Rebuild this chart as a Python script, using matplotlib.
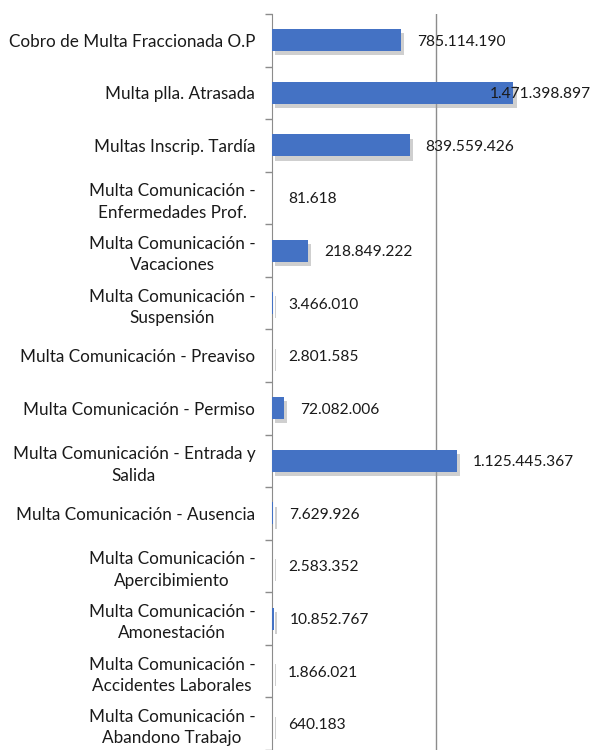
import matplotlib
matplotlib.use('agg')
import matplotlib.pyplot as plt
import matplotlib.patheffects as pe

categories = [
    'Cobro de Multa Fraccionada O.P',
    'Multa plla. Atrasada',
    'Multas Inscrip. Tardía',
    'Multa Comunicación -\nEnfermedades Prof.',
    'Multa Comunicación -\nVacaciones',
    'Multa Comunicación -\nSuspensión',
    'Multa Comunicación - Preaviso',
    'Multa Comunicación - Permiso',
    'Multa Comunicación - Entrada y\nSalida',
    'Multa Comunicación - Ausencia',
    'Multa Comunicación -\nApercibimiento',
    'Multa Comunicación -\nAmonestación',
    'Multa Comunicación -\nAccidentes Laborales',
    'Multa Comunicación -\nAbandono Trabajo',
]
values = [785114190, 1471398897, 839559426, 81618, 218849222, 3466010, 2801585,
          72082006, 1125445367, 7629926, 2583352, 10852767, 1866021, 640183]

plt.rcParams['font.family'] = ['Lato', 'DejaVu Sans']

fig = plt.figure(figsize=(5.95, 7.5), dpi=100)
ax = fig.add_axes([272/595, 0.0, 1 - 272/595, 736/750])

ypos = list(range(len(categories)))
bars = ax.barh(ypos, values, height=0.42, color='#4472C4', zorder=3)
for b in bars:
    b.set_path_effects([pe.SimplePatchShadow(offset=(2.5, -3), shadow_rgbFace='#a0a0a0', alpha=0.5),
                        pe.Normal()])

ax.set_xlim(0, 1.97e9)
ax.set_ylim(len(categories) - 0.5, -0.5)

# gridline at 1e9
ax.set_xticks([1e9])
ax.tick_params(axis='x', length=0, labelbottom=False)
ax.grid(axis='x', color='#8c8c8c', linewidth=1.0, zorder=0)

ax.set_yticks(ypos)
ax.set_yticklabels(categories, fontsize=12.3, color='#1a1a1a',
                   multialignment='center', linespacing=1.4)
ax.tick_params(axis='y', which='major', length=0, pad=12)
ax.set_yticks([i - 0.5 for i in range(len(categories) + 1)], minor=True)
ax.tick_params(axis='y', which='minor', length=5, color='#8c8c8c', width=1)

for s in ['top', 'right', 'bottom']:
    ax.spines[s].set_visible(False)
ax.spines['left'].set_color('#8c8c8c')

for i, v in enumerate(values):
    txt = f"{v:,}".replace(',', '.')
    if v / 1.97e9 > 0.7:
        ax.annotate(txt, xy=(1.0, i), xycoords=('axes fraction', 'data'),
                    xytext=(-3, -1), textcoords='offset points',
                    ha='right', va='center', fontsize=11.2, color='#1a1a1a', zorder=5)
    else:
        ax.annotate(txt, xy=(v, i), xytext=(11.5, -1), textcoords='offset points',
                    ha='left', va='center', fontsize=11.2, color='#1a1a1a', zorder=5)

fig.savefig('out.png', dpi=100)
plt.close(fig)
